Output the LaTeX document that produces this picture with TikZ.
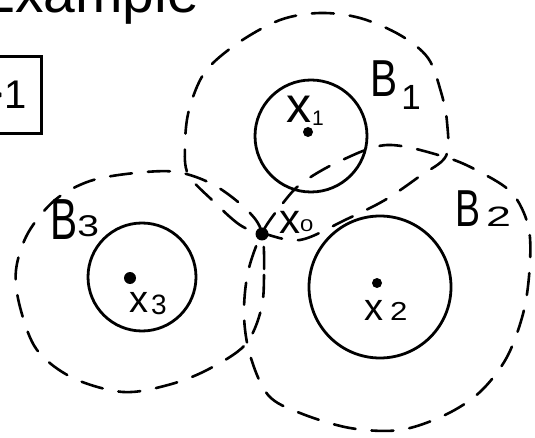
\documentclass[tikz,border=0pt]{standalone}
\usepackage{fontspec}
\setmainfont{Liberation Sans}
\usepackage{graphicx}
\newcommand{\fs}[1]{\fontsize{#1}{#1}\selectfont}
\tikzset{
  solidcirc/.style={draw, circle, line width=2.8pt, inner sep=0pt},
  pt/.style={circle, fill, inner sep=0pt},
  bdash/.style={line width=2.6pt, dash pattern=on 22pt off 16pt, line cap=round},
  lab/.style={inner sep=0pt, anchor=base west},
}
\begin{document}
\begin{tikzpicture}[x=1pt, y=-1pt]
\useasboundingbox (0,0) rectangle (535,438);

% heading (cut off at the top)
\node[lab] (title) at (-23,13) {\fs{57}Example};

% box
\node[draw, line width=2.8pt, inner xsep=15pt, inner ysep=24.7pt, anchor=north east] (box) at (43,55) {\fs{40}>1};

% solid circles
\node[solidcirc, minimum size=112pt] (c1) at (311,136) {};
\node[solidcirc, minimum size=142pt] (c2) at (380,287) {};
\node[solidcirc, minimum size=108pt] (c3) at (142,277) {};

% dashed balls
\draw[bdash] plot[smooth cycle, tension=0.55] coordinates {
 (262,233) (240,225) (212,200) (188,174) (185,145) (189,110) (205,72) (238,43)
 (280,20) (320,13) (360,18) (400,35) (428,58) (441,92) (447,122) (446,156)
 (420,176) (385,200) (345,220) (300,240)};
\draw[bdash] plot[smooth cycle, tension=0.55] coordinates {
 (262,233) (283,203) (302,183) (338,162) (387,145) (445,157) (480,172) (512,193)
 (528,225) (530,262) (524,310) (507,357) (480,392) (445,415) (400,430) (350,428)
 (300,413) (268,395) (250,355) (244,315) (248,272)};
\draw[bdash] plot[smooth cycle, tension=0.55] coordinates {
 (262,233) (264,275) (261,310) (245,345) (207,370) (168,385) (123,392) (73,378)
 (37,350) (20,307) (16,270) (28,233) (55,200) (90,181) (135,173) (177,172)
 (214,185) (247,210)};

% points
\node[pt, minimum size=10pt] (x1) at (308,132) {};
\node[pt, minimum size=10pt] (x2) at (377,283) {};
\node[pt, minimum size=12pt] (x3) at (130,278) {};
\node[pt, minimum size=13pt] (x0) at (262,234) {};

% labels
\node[lab] (lx1) at (286,123) {\fs{50}x\kern1pt\fs{21}\raisebox{-3pt}{1}};
\node[lab] (lx2) at (364,320) {\fs{38}x\kern7pt\fs{26}\scalebox{1.2}[1]{2}};
\node[lab] (lx3) at (129,312) {\fs{38}x\kern3pt\fs{28}\raisebox{-2pt}{3}};
\node[lab] (lx0) at (279,234) {\fs{42}x\fs{17}\raisebox{2pt}{\scalebox{1.4}[1]{0}}};

\node[lab] (lb1) at (370,97) {\scalebox{0.78}[1]{\fs{52}B}\kern4pt\fs{35}\raisebox{-13pt}{1}};
\node[lab] (lb2) at (455,227) {\scalebox{0.72}[1]{\fs{52}B}\kern6pt\fs{28}\scalebox{1.6}[1]{2}};
\node[lab] (lb3) at (50,240) {\scalebox{0.7}[1]{\fs{58}B}\fs{30}\raisebox{3pt}{\scalebox{1.3}[1]{3}}};
\end{tikzpicture}
\end{document}
